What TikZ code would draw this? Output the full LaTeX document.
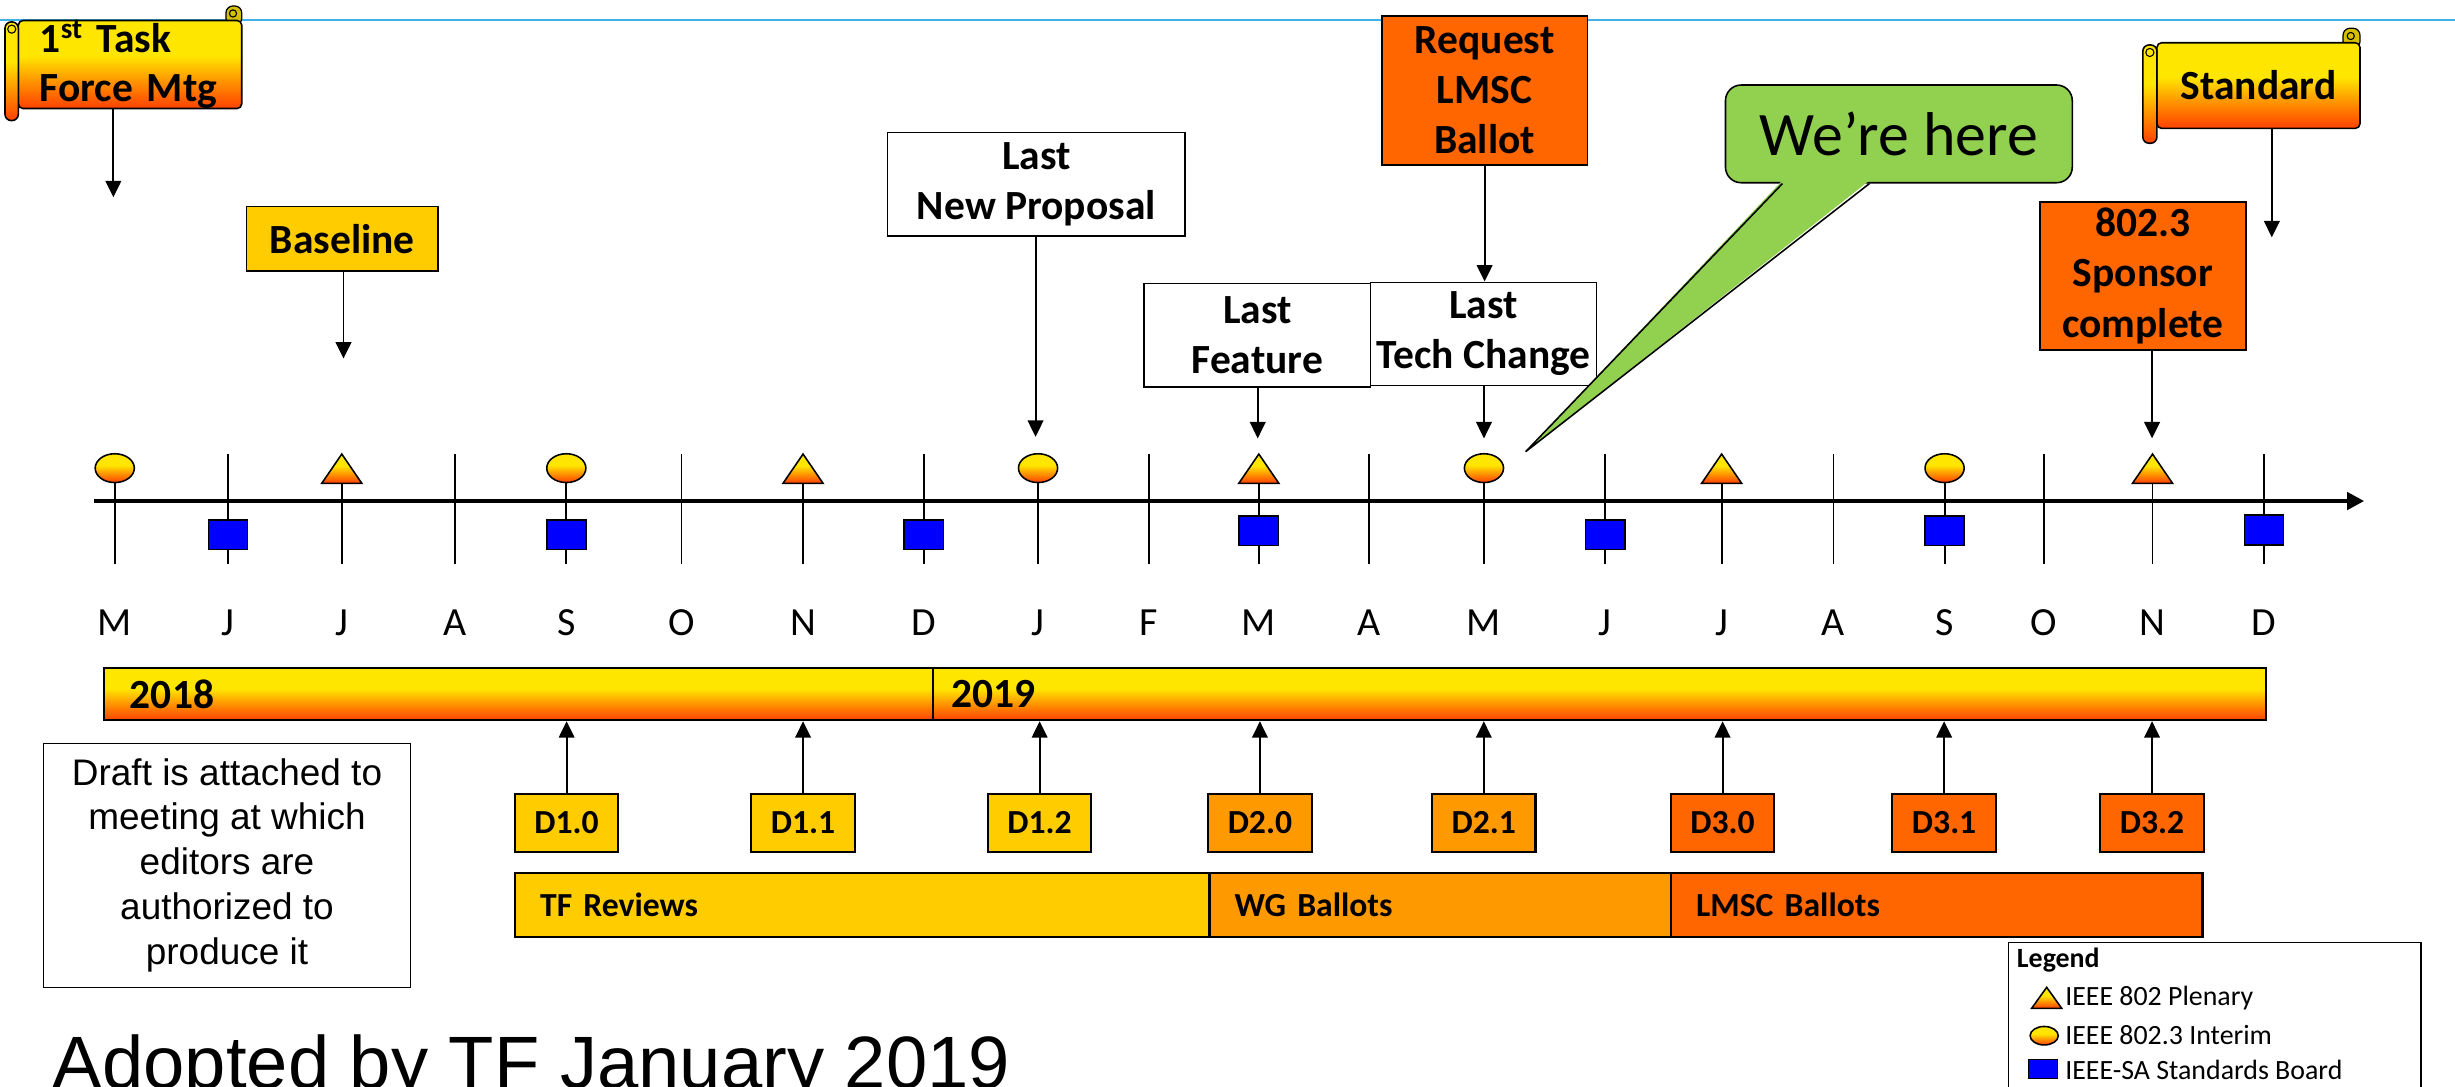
\documentclass[tikz,border=0pt]{standalone}
\usepackage{fontspec}
\setmainfont{Carlito}
\newfontfamily\arialfont{Liberation Sans}
\usetikzlibrary{arrows.meta}

\definecolor{gyellow}{RGB}{255,230,0}
\definecolor{gorange}{RGB}{255,150,0}
\definecolor{gred}{RGB}{255,64,0}
\definecolor{gold}{RGB}{255,204,0}
\definecolor{amber}{RGB}{255,153,0}
\definecolor{pumpkin}{RGB}{255,102,0}
\definecolor{herefill}{RGB}{146,208,80}
\definecolor{sqblue}{RGB}{0,0,255}
\definecolor{topline}{RGB}{64,176,232}
\definecolor{curl}{RGB}{214,192,0}

\pgfdeclareverticalshading{warm}{100bp}{color(0bp)=(gred); color(25bp)=(gred); color(41bp)=(gorange); color(55bp)=(gyellow); color(100bp)=(gyellow)}

\begin{document}
\begin{tikzpicture}[x=1pt,y=-1pt,>={Triangle[length=10.5pt,width=10pt]},
    lbl/.style={draw,line width=1pt,align=center,inner sep=0pt,font=\fontsize{26.5}{32}\selectfont\bfseries},
    dbox/.style={draw,line width=1.3pt,minimum width=66pt,minimum height=37pt,inner sep=0pt,font=\fontsize{21.5}{26}\selectfont\bfseries},
    phase/.style={draw,line width=1.3pt,minimum height=41pt,inner xsep=16pt,inner ysep=0pt,align=left,font=\fontsize{21.5}{26}\selectfont\bfseries},
    year/.style={shade,shading=warm,draw,line width=1.3pt,minimum height=33.6pt,inner ysep=0pt,align=left,font=\fontsize{26.5}{32}\selectfont\bfseries},
    scroll/.style={shade,shading=warm,draw,line width=1pt},
    month/.style={font=\fontsize{25.5}{30}\selectfont},
    tick/.style={line width=1.2pt},
    conn/.style={-{Triangle[length=10.5pt,width=10pt]},line width=1.2pt},
    legtext/.style={anchor=west,inner sep=0pt,font=\fontsize{17.8}{21}\selectfont}]
    \useasboundingbox (0,0) rectangle (1568,694);
    \clip (0,0) rectangle (1568,694);

    \draw[topline,line width=1.2pt] (0,12.8) -- (1568,12.8);

    \draw[fill=curl,line width=0.8pt,rounded corners=4.5pt] (144.3,3.8) rectangle (154.4,16);
    \draw[line width=0.7pt] (148.8,8.6) circle[radius=2.3pt];
    \node[scroll,rounded corners=3pt,minimum width=142.7pt,minimum height=55.2pt,text width=115.1pt,inner xsep=13.8pt,inner ysep=0pt,align=left,font=\fontsize{26.5}{31}\selectfont\bfseries] (taskmtg) at (83.05,41.2) {1\textsuperscript{st} Task\\Force Mtg};
    \draw[scroll,rounded corners=4pt] (3.2,14) rectangle (11.7,77);
    \draw[fill=gyellow,line width=0.7pt] (7.5,18.6) circle[radius=2.6pt];

    \draw[fill=curl,line width=0.8pt,rounded corners=4.5pt] (1496.5,18) rectangle (1507.3,31);
    \draw[line width=0.7pt] (1501.4,23) circle[radius=2.3pt];
    \node[scroll,rounded corners=3pt,minimum width=129.7pt,minimum height=54.7pt,inner sep=0pt,font=\fontsize{26.5}{31}\selectfont\bfseries] (standard) at (1442.45,54.65) {Standard};
    \draw[scroll,rounded corners=4pt] (1368.6,28.7) rectangle (1377.6,91.5);
    \draw[fill=gyellow,line width=0.7pt] (1373.1,33.5) circle[radius=2.6pt];

    \node[lbl,fill=gold,minimum width=122.2pt,minimum height=41.1pt] (baseline) at (218.6,152.5) {Baseline};
    \node[lbl,fill=white,minimum width=190.2pt,minimum height=66.2pt] (lastprop) at (661.9,117.6) {Last\\New Proposal};
    \node[lbl,fill=white,minimum width=144.7pt,minimum height=66pt] (lastfeat) at (803,214) {Last\\Feature};
    \node[lbl,fill=white,minimum width=144.4pt,minimum height=66pt] (lasttech) at (947.6,213.3) {Last\\Tech Change};
    \node[lbl,fill=pumpkin,minimum width=131.4pt,minimum height=95.2pt] (request) at (948.2,57.8) {Request\\LMSC\\Ballot};
    \node[lbl,fill=pumpkin,minimum width=131.6pt,minimum height=94.7pt] (sponsor) at (1368.6,176.2) {802.3\\Sponsor\\complete};

    \node[draw,fill=herefill,line width=1pt,rounded corners=10pt,minimum width=221.5pt,minimum height=62.4pt,inner sep=0pt,font=\fontsize{39.5}{46}\selectfont] (here) at (1212.8,85.5) {We’re here};
    \coordinate (herept) at (974.4,288.5);
    \fill[herefill] ([xshift=36.9pt,yshift=2pt]here.south west) -- (herept) -- ([xshift=92.5pt,yshift=2pt]here.south west) -- cycle;
    \draw[line width=1pt] ([xshift=36.9pt]here.south west) -- (herept) -- ([xshift=92.5pt]here.south west);

    \coordinate (taskend) at (72.4,126);
    \coordinate (baseend) at (219.4,229);
    \coordinate (propend) at (661.4,279);
    \coordinate (featend) at (803.3,280);
    \coordinate (techend) at (947.8,280);
    \coordinate (stdend) at (1451,151.6);
    \coordinate (sponend) at (1374.5,280);
    \draw[conn] (taskmtg.south -| taskend) -- (taskend);
    \draw[conn] (baseline.south -| baseend) -- (baseend);
    \draw[conn] (lastprop.south -| propend) -- (propend);
    \draw[conn] (request.south) -- (request.south |- lasttech.north);
    \draw[conn] (lastfeat.south -| featend) -- (featend);
    \draw[conn] (lasttech.south -| techend) -- (techend);
    \draw[conn] (standard.south -| stdend) -- (stdend);
    \draw[conn] (sponsor.south -| sponend) -- (sponend);

    \draw[tick] (73.3,290) -- (73.3,360);     \node[month] (may18) at (73.3,398) {M};
    \draw[tick] (145.6,290) -- (145.6,360);   \node[month] (jun18) at (145.6,398) {J};
    \draw[tick] (218.3,290) -- (218.3,360);   \node[month] (jul18) at (218.3,398) {J};
    \draw[tick] (290.6,290) -- (290.6,360);   \node[month] (aug18) at (290.6,398) {A};
    \draw[tick] (361.7,290) -- (361.7,360);   \node[month] (sep18) at (361.7,398) {S};
    \draw[tick] (435.3,290) -- (435.3,360);   \node[month] (oct18) at (435.3,398) {O};
    \draw[tick] (512.9,290) -- (512.9,360);   \node[month] (nov18) at (512.9,398) {N};
    \draw[tick] (590,290) -- (590,360);       \node[month] (dec18) at (590,398) {D};
    \draw[tick] (663,290) -- (663,360);       \node[month] (jan19) at (663,398) {J};
    \draw[tick] (733.8,290) -- (733.8,360);   \node[month] (feb19) at (733.8,398) {F};
    \draw[tick] (804,290) -- (804,360);       \node[month] (mar19) at (804,398) {M};
    \draw[tick] (874.4,290) -- (874.4,360);   \node[month] (apr19) at (874.4,398) {A};
    \draw[tick] (947.8,290) -- (947.8,360);   \node[month] (may19) at (947.8,398) {M};
    \draw[tick] (1025.2,290) -- (1025.2,360); \node[month] (jun19) at (1025.2,398) {J};
    \draw[tick] (1099.6,290) -- (1099.6,360); \node[month] (jul19) at (1099.6,398) {J};
    \draw[tick] (1171,290) -- (1171,360);     \node[month] (aug19) at (1171,398) {A};
    \draw[tick] (1242,290) -- (1242,360);     \node[month] (sep19) at (1242,398) {S};
    \draw[tick] (1305.4,290) -- (1305.4,360); \node[month] (oct19) at (1305.4,398) {O};
    \draw[tick] (1374.8,290) -- (1374.8,360); \node[month] (nov19) at (1374.8,398) {N};
    \draw[tick] (1446,290) -- (1446,360);     \node[month] (dec19) at (1446,398) {D};

    \draw[line width=2.9pt,-{Triangle[length=11pt,width=11pt]}] (60.3,320) -- (1510,320);

    \draw[scroll] (73.3,299) ellipse[x radius=12.5pt,y radius=9.2pt];
    \draw[scroll] (361.7,299) ellipse[x radius=12.5pt,y radius=9.2pt];
    \draw[scroll] (663,299) ellipse[x radius=12.5pt,y radius=9.2pt];
    \draw[scroll] (947.8,299) ellipse[x radius=12.5pt,y radius=9.2pt];
    \draw[scroll] (1242,299) ellipse[x radius=12.5pt,y radius=9.2pt];
    \draw[scroll] (205.5,308.7) -- (218.3,290) -- (231.1,308.7) -- cycle;
    \draw[scroll] (500.1,308.7) -- (512.9,290) -- (525.7,308.7) -- cycle;
    \draw[scroll] (791.2,308.7) -- (804,290) -- (816.8,308.7) -- cycle;
    \draw[scroll] (1086.8,308.7) -- (1099.6,290) -- (1112.4,308.7) -- cycle;
    \draw[scroll] (1362,308.7) -- (1374.8,290) -- (1387.6,308.7) -- cycle;
    \draw[fill=sqblue,line width=1pt] (133.1,332) rectangle (158.1,351);
    \draw[fill=sqblue,line width=1pt] (349.2,332) rectangle (374.2,351);
    \draw[fill=sqblue,line width=1pt] (577.5,332) rectangle (602.5,351);
    \draw[fill=sqblue,line width=1pt] (791.5,329.5) rectangle (816.5,348.5);
    \draw[fill=sqblue,line width=1pt] (1012.7,332) rectangle (1037.7,351);
    \draw[fill=sqblue,line width=1pt] (1229.5,329.5) rectangle (1254.5,348.5);
    \draw[fill=sqblue,line width=1pt] (1433.5,329) rectangle (1458.5,348);

    \node[year,minimum width=529.5pt,text width=495.9pt,inner xsep=16.8pt] (y18) at (330.95,443.2) {2018};
    \node[year,minimum width=851.7pt,text width=828.3pt,inner xsep=11.7pt] (y19) at (1021.55,443.2) {2019};

    \node[dbox,fill=gold] (d10) at (361.9,525.5) {D1.0};
    \node[dbox,fill=gold] (d11) at (512.9,525.5) {D1.1};
    \node[dbox,fill=gold] (d12) at (664,525.5) {D1.2};
    \node[dbox,fill=amber] (d20) at (804.7,525.5) {D2.0};
    \node[dbox,fill=amber] (d21) at (947.7,525.5) {D2.1};
    \node[dbox,fill=pumpkin] (d30) at (1100.2,525.5) {D3.0};
    \node[dbox,fill=pumpkin] (d31) at (1241.7,525.5) {D3.1};
    \node[dbox,fill=pumpkin] (d32) at (1374.5,525.5) {D3.2};
    \draw[conn] (d10.north) -- (d10.north |- y18.south);
    \draw[conn] (d11.north) -- (d11.north |- y18.south);
    \draw[conn] (d12.north) -- (d12.north |- y19.south);
    \draw[conn] (d20.north) -- (d20.north |- y19.south);
    \draw[conn] (d21.north) -- (d21.north |- y19.south);
    \draw[conn] (d30.north) -- (d30.north |- y19.south);
    \draw[conn] (d31.north) -- (d31.north |- y19.south);
    \draw[conn] (d32.north) -- (d32.north |- y19.south);

    \node[phase,fill=gold,minimum width=443.5pt,text width=411.5pt] (tfrev) at (550.75,577.9) {TF Reviews};
    \node[phase,fill=amber,minimum width=294.8pt,text width=262.8pt] (wgbal) at (919.9,577.9) {WG Ballots};
    \node[phase,fill=pumpkin,minimum width=339.4pt,text width=307.4pt] (lmscbal) at (1237,577.9) {LMSC Ballots};

    \node[draw,line width=1pt,minimum width=234.3pt,minimum height=155.8pt,inner sep=0pt,align=center,font=\arialfont\fontsize{23.6}{28.7}\selectfont] (draft) at (145,552.7) {Draft is attached to\\meeting at which\\editors are\\authorized to\\produce it};

    \node[anchor=base west,inner sep=0pt,font=\arialfont\fontsize{47.4}{56}\selectfont] (adopted) at (33.6,695) {Adopted by TF January 2019};

    \node[draw,fill=white,line width=1pt,minimum width=263.6pt,minimum height=120pt,inner sep=0pt] (legend) at (1414.5,661.9) {};
    \node[legtext,font=\fontsize{17.8}{21}\selectfont\bfseries] (legtitle) at (1288,613.2) {Legend};
    \draw[scroll] (1297.6,644) -- (1307.2,630.6) -- (1316.8,644) -- cycle;
    \node[legtext] (legplen) at (1318.9,637.6) {IEEE 802 Plenary};
    \draw[scroll] (1305.6,661.5) ellipse[x radius=9pt,y radius=5.9pt];
    \node[legtext] (legint) at (1318.9,661) {IEEE 802.3 Interim};
    \draw[fill=sqblue,line width=1pt] (1295.5,676.6) rectangle (1314,688.7);
    \node[legtext] (legsb) at (1318.9,683.4) {IEEE-SA Standards Board};
\end{tikzpicture}
\end{document}
